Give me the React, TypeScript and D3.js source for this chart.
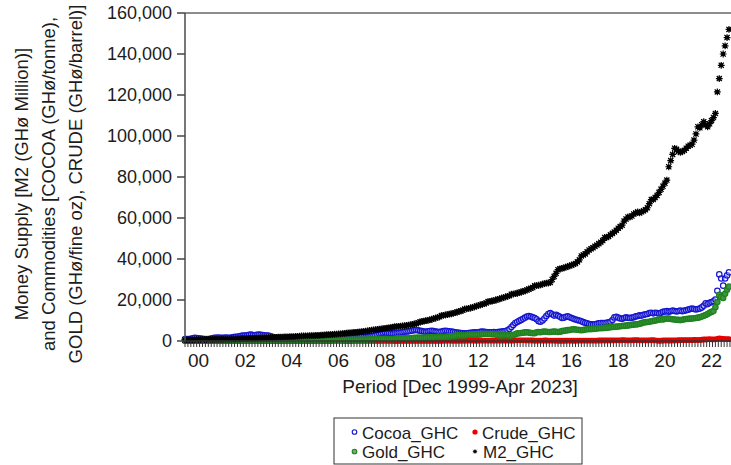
import React from "react";
import * as d3 from "d3";

// Monthly observations, Dec 1999 .. Apr 2023 (281 points each)
const m2Values = [
  520,
  530, 545, 560, 575, 590, 600, 620, 640, 660, 690, 720, 760,
  770, 780, 790, 800, 815, 830, 850, 870, 890, 920, 950, 1000,
  1010, 1030, 1050, 1080, 1110, 1140, 1170, 1200, 1240, 1280, 1320, 1380,
  1400, 1430, 1460, 1500, 1540, 1570, 1610, 1650, 1700, 1750, 1800, 1880,
  1900, 1930, 1970, 2000, 2040, 2080, 2120, 2170, 2220, 2280, 2340, 2450,
  2460, 2490, 2520, 2560, 2600, 2640, 2680, 2730, 2780, 2840, 2900, 3000,
  3050, 3100, 3150, 3220, 3290, 3360, 3440, 3520, 3600, 3700, 3800, 3950,
  4000, 4080, 4150, 4250, 4350, 4450, 4560, 4680, 4800, 4950, 5100, 5350,
  5400, 5500, 5620, 5750, 5880, 6000, 6150, 6300, 6450, 6600, 6750, 7000,
  7050, 7150, 7250, 7350, 7450, 7600, 7750, 7900, 8100, 8300, 8500, 8900,
  9300, 9500, 9700, 9900, 10100, 10300, 10600, 10900, 11200, 11500, 11800, 12400,
  12500, 12700, 12900, 13100, 13300, 13500, 13800, 14100, 14400, 14700, 15000, 15600,
  15700, 15900, 16100, 16400, 16700, 17000, 17300, 17600, 17900, 18200, 18500, 19200,
  19300, 19500, 19700, 20000, 20300, 20600, 20900, 21200, 21500, 21800, 22100, 22800,
  22900, 23100, 23300, 23600, 23900, 24200, 24500, 24900, 25300, 25700, 26100, 27000,
  27000, 27200, 27400, 27700, 28000, 28200, 28300, 28500, 30000, 31500, 33000, 34800,
  35200, 35400, 35700, 36000, 36300, 36700, 37000, 37400, 37800, 38600, 39600, 41500,
  42000, 42500, 43500, 44400, 45000, 45500, 46200, 46800, 47500, 48200, 49000, 50500,
  50500, 51000, 51800, 52500, 53200, 54000, 55000, 55800, 56500, 58500, 59500, 60500,
  60500, 61000, 62000, 62400, 63000, 62500, 63000, 63500, 64000, 65000, 67000, 69000,
  69000, 70000, 71000, 72500, 74000, 75500, 77000, 78500, 85000, 88000, 91000, 94000,
  93500, 92500, 92000, 92500, 93000, 94000, 95000, 95500, 96000, 98000, 101000, 104500,
  104000, 105500, 107000, 105500, 104500, 106000, 107500, 109000, 111000, 121500, 128000, 134500,
  140000, 144000, 148000, 152000,
];

const cocoaValues = [
  900,
  950, 1000, 1100, 1300, 1500, 1400, 1300, 1200, 1100, 1000, 950, 1000,
  1100, 1300, 1500, 1600, 1700, 1600, 1500, 1600, 1700, 1600, 1500, 1700,
  1900, 2000, 2100, 2300, 2500, 2600, 2700, 2800, 3000, 3100, 2900, 2800,
  3000, 3100, 3000, 2900, 2800, 2700, 2600, 2300, 2000, 1800, 1600, 1500,
  1400, 1350, 1300, 1250, 1200, 1250, 1300, 1350, 1300, 1250, 1200, 1250,
  1300, 1350, 1400, 1350, 1300, 1300, 1350, 1400, 1350, 1300, 1350, 1400,
  1450, 1400, 1400, 1450, 1500, 1500, 1550, 1600, 1550, 1500, 1550, 1650,
  1700, 1750, 1800, 1850, 1900, 2000, 2150, 2100, 2050, 2200, 2300, 2400,
  2500, 2800, 3200, 3500, 3700, 3900, 4100, 3900, 3800, 3700, 3600, 3800,
  3900, 4000, 4100, 4300, 4500, 4600, 4700, 4900, 5100, 5300, 5400, 5200,
  5000, 4800, 4600, 4500, 4700, 4900, 5000, 4800, 4600, 4500, 4400, 4600,
  4800, 5000, 4900, 4700, 4600, 4500, 4300, 4100, 4000, 3900, 3800, 3700,
  3800, 3900, 4000, 4100, 4200, 4100, 4300, 4500, 4600, 4500, 4400, 4300,
  4200, 4300, 4400, 4300, 4400, 4500, 4600, 4700, 4900, 5200, 5800, 6800,
  7800, 8800, 9300, 9800, 10300, 10800, 11400, 11900, 12200, 11900, 11500, 11200,
  10600, 9600, 9400, 10000, 11000, 12200, 13200, 13600, 13000, 12400, 12800, 12300,
  11800, 11200, 11400, 11800, 12000, 11600, 11200, 10800, 10500, 10200, 10000, 9600,
  9200, 8900, 8600, 8300, 8100, 8000, 8200, 8400, 8600, 8800, 8700, 8800,
  8900, 9100, 9400, 10200, 11500, 11800, 11400, 11000, 10800, 11200, 11500, 11300,
  11200, 11400, 11600, 12000, 12200, 12500, 12400, 12800, 13000, 13200, 13600, 13800,
  13500, 13800, 13600, 13400, 13800, 14200, 14400, 14600, 14300, 14500, 14800, 14600,
  14400, 14600, 14800, 14500, 14800, 15000, 15300, 15600, 15800, 15600, 15400, 15600,
  15800, 16400, 17200, 18400, 18000, 18600, 19000, 19400, 20200, 24500, 32500, 30500,
  27000, 30500, 32000, 33500,
];

const goldValues = [
  160,
  160, 170, 165, 160, 155, 160, 160, 155, 160, 160, 160, 165,
  170, 175, 180, 185, 195, 200, 200, 205, 220, 220, 220, 225,
  240, 250, 260, 270, 280, 290, 280, 280, 290, 290, 290, 300,
  310, 320, 300, 295, 310, 310, 310, 320, 330, 330, 340, 350,
  360, 360, 370, 360, 350, 355, 360, 360, 370, 380, 390, 390,
  390, 390, 390, 390, 380, 390, 390, 400, 410, 430, 440, 470,
  510, 510, 510, 560, 620, 560, 580, 580, 560, 550, 580, 580,
  590, 610, 610, 630, 620, 610, 620, 610, 650, 720, 760, 780,
  860, 940, 990, 950, 920, 970, 1040, 980, 980, 970, 960, 1040,
  1180, 1350, 1330, 1290, 1330, 1350, 1340, 1360, 1450, 1510, 1620, 1630,
  1590, 1560, 1590, 1640, 1720, 1760, 1720, 1760, 1830, 1920, 1960, 1990,
  1940, 2030, 2100, 2250, 2330, 2360, 2480, 2770, 2880, 2710, 2800, 2750,
  2880, 3080, 3080, 3070, 3040, 3100, 3110, 3160, 3380, 3440, 3420, 3380,
  3400, 3380, 3270, 3130, 2880, 2800, 2650, 2790, 2840, 2790, 2700, 2660,
  2920, 3300, 3700, 3800, 3900, 4000, 4200, 4300, 4100, 3900, 3850, 3800,
  4300, 4400, 4300, 4500, 4600, 4500, 4400, 4400, 4500, 4600, 4500, 4400,
  4500, 4800, 5000, 5100, 5300, 5400, 5600, 5700, 5600, 5500, 5400, 5300,
  5400, 5600, 5700, 5800, 5800, 5900, 6000, 6100, 6200, 6300, 6300, 6400,
  6500, 6600, 6700, 6800, 6900, 7000, 7100, 7200, 7300, 7400, 7500, 7600,
  7700, 7900, 8000, 8100, 8200, 8400, 8700, 9000, 9200, 9300, 9400, 9600,
  9800, 10000, 10200, 10400, 10600, 10500, 10800, 11000, 10900, 10700, 10600, 10500,
  10400, 10300, 10200, 10400, 10600, 10700, 10800, 10900, 11000, 11100, 11200, 11400,
  11600, 11900, 12300, 12700, 13200, 13800, 14200, 14600, 16500, 19000, 22500, 21500,
  21000, 23000, 25000, 26500,
];

const crudeValues = [
  14,
  15, 16, 17, 16, 17, 19, 19, 19, 22, 22, 23, 20,
  19, 20, 19, 20, 21, 21, 20, 21, 21, 17, 15, 15,
  16, 17, 20, 22, 22, 21, 22, 23, 25, 24, 22, 25,
  27, 29, 27, 23, 23, 25, 26, 27, 25, 27, 27, 28,
  30, 30, 32, 33, 36, 34, 37, 41, 42, 48, 44, 40,
  44, 45, 52, 50, 49, 54, 57, 62, 62, 59, 55, 56,
  60, 58, 58, 66, 66, 66, 70, 70, 61, 57, 57, 60,
  53, 57, 61, 65, 65, 68, 73, 69, 75, 79, 89, 88,
  90, 94, 104, 110, 125, 140, 145, 125, 110, 85, 62, 50,
  60, 60, 68, 72, 85, 100, 96, 105, 98, 108, 114, 112,
  110, 108, 114, 122, 110, 108, 110, 112, 114, 122, 128, 136,
  150, 162, 185, 195, 182, 180, 182, 175, 180, 175, 185, 180,
  190, 210, 230, 225, 205, 180, 195, 215, 220, 215, 210, 215,
  225, 240, 225, 215, 215, 215, 230, 235, 235, 225, 215, 220,
  245, 270, 305, 320, 330, 340, 315, 300, 290, 260, 240, 190,
  165, 200, 215, 230, 250, 240, 215, 190, 190, 190, 180, 150,
  125, 135, 160, 170, 185, 190, 180, 180, 180, 190, 185, 210,
  225, 230, 220, 230, 220, 210, 215, 225, 245, 255, 275, 285,
  300, 295, 300, 325, 350, 340, 345, 340, 365, 385, 320, 280,
  310, 340, 360, 380, 370, 340, 350, 330, 340, 330, 350, 370,
  365, 320, 200, 120, 180, 240, 260, 270, 250, 250, 270, 300,
  320, 360, 380, 380, 400, 430, 440, 420, 450, 490, 480, 440,
  520, 600, 750, 720, 810, 870, 830, 800, 800, 1080, 1250, 1150,
  1000, 950, 900, 920,
];

const yTickValues = [0, 20000, 40000, 60000, 80000, 100000, 120000, 140000, 160000];
const xLabelYears = [2000, 2002, 2004, 2006, 2008, 2010, 2012, 2014, 2016, 2018, 2020, 2022];
const legendNames = ["Cocoa_GHC", "Crude_GHC", "Gold_GHC", "M2_GHC"];
const yTitleLines = [
  "Money Supply [M2 (GHø Million)]",
  "and Commodities [COCOA (GHø/tonne),",
  "GOLD (GHø/fine oz), CRUDE (GHø/barrel)]",
];
const xTitle = "Period [Dec 1999-Apr 2023]";

const FONT = "'Liberation Sans', Arial, Helvetica, sans-serif";
const TXT = "#1c1c1c";
const BLUE = "#1414d2";
const GREEN = "#1f821f";
const RED = "#e60000";

const asteriskPath = "M-3.4,0H3.4M0,-3.4V3.4M-2.6,-2.6L2.6,2.6M-2.6,2.6L2.6,-2.6";

function Asterisk({ cx, cy, s = 1 }: { cx: number; cy: number; s?: number }) {
  return (
    <g transform={`translate(${cx},${cy}) scale(${s})`}>
      <rect x={-1.9} y={-1.9} width={3.8} height={3.8} fill="#000" />
      <path d={asteriskPath} stroke="#000" strokeWidth={1.2} fill="none" />
    </g>
  );
}

export default function App() {
  const W = 731;
  const H = 465;
  const nObs = m2Values.length;
  const x = d3.scaleLinear().domain([0, nObs - 1]).range([185, 729]);
  const y = d3.scaleLinear().domain([0, 160000]).range([341, 13]);
  const fmt = d3.format(",");
  const minorTicks = d3.range(0, nObs, 1.5);
  const idx = d3.range(nObs);

  return (
    <svg
      width={W}
      height={H}
      viewBox={`0 0 ${W} ${H}`}
      style={{ position: "absolute", left: 0, top: 0, background: "#fff" }}
      fontFamily={FONT}
    >
      <rect x={0} y={0} width={W} height={H} fill="#fff" />

      {/* Y title */}
      {yTitleLines.map((t, i) => (
        <text
          key={t}
          transform={`translate(${28 + i * 27},184) rotate(-90)`}
          textAnchor="middle"
          fontSize={18.5}
          fill={TXT}
        >
          {t}
        </text>
      ))}

      {/* Series: cocoa, crude, gold, M2 */}
      <g>
        {idx.map((i) => (
          <circle key={"c" + i} cx={x(i)} cy={y(cocoaValues[i])} r={2.7} fill="#fff" fillOpacity={0.3} stroke={BLUE} strokeWidth={1.2} />
        ))}
      </g>
      <g>
        {idx.map((i) => (
          <circle key={"r" + i} cx={x(i)} cy={y(crudeValues[i])} r={2.9} fill={RED} />
        ))}
      </g>
      <g>
        {idx.map((i) => (
          <circle key={"g" + i} cx={x(i)} cy={y(goldValues[i])} r={2.7} fill="#3f943f" stroke={GREEN} strokeWidth={1.2} />
        ))}
      </g>
      <g>
        {idx.map((i) => (
          <Asterisk key={"m" + i} cx={x(i)} cy={y(m2Values[i])} />
        ))}
      </g>

      {/* Frame */}
      <line x1={185} x2={W} y1={13} y2={13} stroke="#666" strokeWidth={1.5} />
      <line x1={185} x2={185} y1={13} y2={341} stroke="#555" strokeWidth={1.6} />
      <line x1={185} x2={W} y1={341} y2={341} stroke="#333" strokeWidth={1.6} />

      {/* Y axis */}
      {yTickValues.map((v) => (
        <g key={v}>
          <line x1={177} x2={185} y1={y(v)} y2={y(v)} stroke="#444" strokeWidth={1.5} />
          <text x={172} y={y(v)} dy="0.36em" textAnchor="end" fontSize={18} fill={TXT}>
            {fmt(v)}
          </text>
        </g>
      ))}

      {/* X axis ticks */}
      {minorTicks.map((t) => (
        <line key={t} x1={x(t)} x2={x(t)} y1={341} y2={347} stroke="#333" strokeWidth={1} />
      ))}
      {xLabelYears.map((yr) => (
        <text
          key={yr}
          x={x((yr - 2000) * 12 + 7)}
          y={367}
          textAnchor="middle"
          fontSize={19}
          fill={TXT}
        >
          {String(yr % 100).padStart(2, "0")}
        </text>
      ))}
      <text x={460} y={393} textAnchor="middle" fontSize={19} fill={TXT}>
        {xTitle}
      </text>

      {/* Legend */}
      <rect x={334} y={418} width={248} height={46} fill="#fff" stroke="#333" strokeWidth={1} />
      <circle cx={354.5} cy={432} r={2.3} fill="#fff" stroke={BLUE} strokeWidth={1.1} />
      <text x={362} y={438.5} fontSize={17} fill={TXT}>{legendNames[0]}</text>
      <circle cx={475} cy={432} r={2.6} fill={RED} />
      <text x={482} y={438.5} fontSize={17} fill={TXT}>{legendNames[1]}</text>
      <circle cx={354.5} cy={451.5} r={2.3} fill="#7aa87a" stroke={GREEN} strokeWidth={1.1} />
      <text x={362} y={458} fontSize={17} fill={TXT}>{legendNames[2]}</text>
      <Asterisk cx={475} cy={451.5} s={0.65} />
      <text x={483} y={458} fontSize={17} fill={TXT}>{legendNames[3]}</text>
    </svg>
  );
}
